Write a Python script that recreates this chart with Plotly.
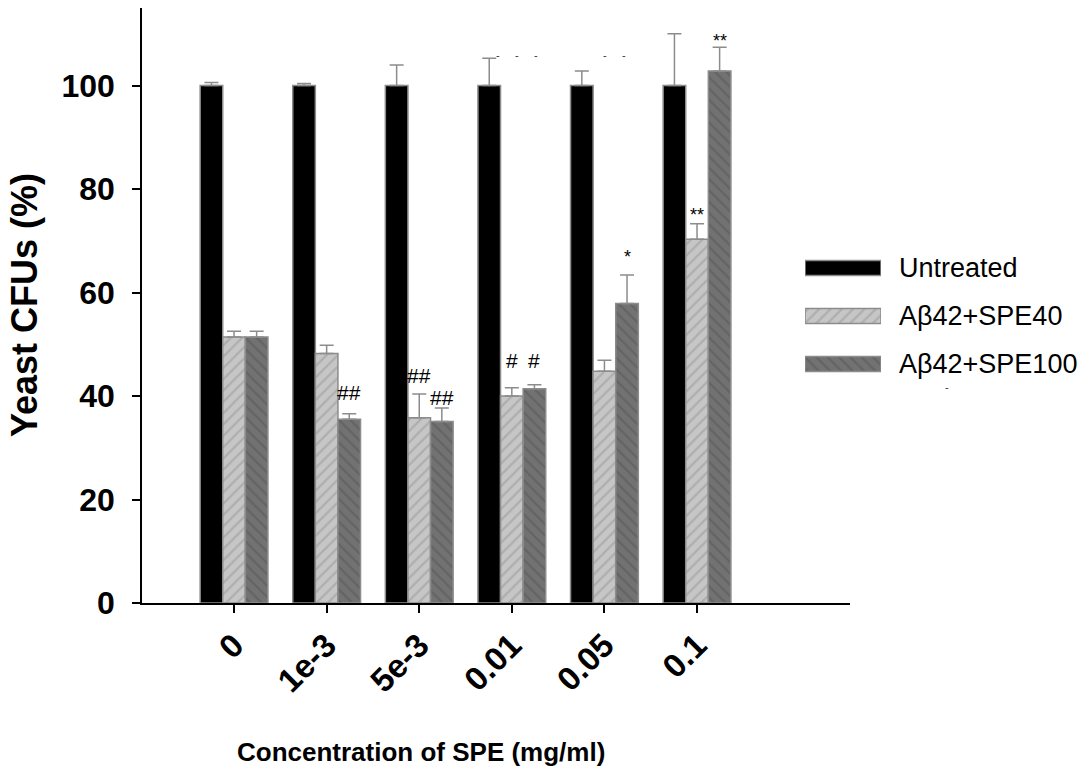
import plotly.graph_objects as go

# ---- data ---------------------------------------------------------------
concentrations = ["0", "1e-3", "5e-3", "0.01", "0.05", "0.1"]
series_names = ["Untreated", "Aβ42+SPE40", "Aβ42+SPE100"]

untreated = [100, 100, 100, 100, 100, 100]
untreated_err = [0.6, 0.4, 4.0, 5.3, 2.8, 10.0]

spe40 = [51.4, 48.2, 35.8, 40.0, 44.8, 70.3]
spe40_err = [1.1, 1.6, 4.6, 1.6, 2.1, 3.0]

spe100 = [51.4, 35.5, 35.1, 41.4, 57.9, 102.8]
spe100_err = [1.1, 1.1, 2.6, 0.8, 5.5, 4.6]

y_ticks = [0, 20, 40, 60, 80, 100]

# significance marks: (concentration index, series index, text, label centre in y units, font size)
significance = [
    (1, 2, "##", 40.6, 21),
    (2, 1, "##", 43.9, 21),
    (2, 2, "##", 39.8, 21),
    (3, 1, "#", 46.8, 21),
    (3, 2, "#", 46.8, 21),
    (4, 2, "*", 66.8, 18),
    (5, 1, "**", 75.0, 18),
    (5, 2, "**", 108.6, 18),
]

# ---- styling ------------------------------------------------------------
FONT = "Liberation Sans, Arial, sans-serif"
EDGE = "#8c8c8c"
BARGAP = 0.268
BAR_W = (1 - BARGAP) / 3
W, H = 1092, 783

styles = [
    dict(color="#000000"),
    dict(color="#c4c4c4",
         pattern=dict(shape="/", bgcolor="#c6c6c6", fgcolor="#969696", size=8, solidity=0.28)),
    dict(color="#6e6e6e",
         pattern=dict(shape="\\", bgcolor="#727272", fgcolor="#565656", size=8, solidity=0.3)),
]
values = [untreated, spe40, spe100]
errors = [untreated_err, spe40_err, spe100_err]
positions = list(range(len(concentrations)))

fig = go.Figure()

for name, vals, errs, st in zip(series_names, values, errors, styles):
    fig.add_trace(go.Bar(
        x=positions, y=vals, name=name,
        marker=dict(line=dict(color=EDGE, width=1.5), **st),
        error_y=dict(type="data", array=errs, arrayminus=[0] * len(errs),
                     symmetric=False, color=EDGE, thickness=1.5, width=7),
        xaxis="x", yaxis="y", showlegend=False,
    ))

# legend drawn as wide swatches on a small helper subplot
for i, (name, st) in enumerate(zip(series_names, styles)):
    row = len(series_names) - 1 - i
    fig.add_trace(go.Bar(
        x=[1], y=[row], orientation="h", width=0.31, offset=-0.155,
        marker=dict(line=dict(color=EDGE, width=1.5), **st),
        xaxis="x2", yaxis="y2", showlegend=False, hoverinfo="skip",
    ))
    fig.add_annotation(x=897 / W, xref="paper", y=row, yref="y2",
                       text=name, showarrow=False, xanchor="left", yanchor="middle",
                       font=dict(family=FONT, size=27, color="black"))

for cat, ser, txt, ypos, fs in significance:
    fig.add_annotation(x=cat + (ser - 1) * BAR_W, y=ypos, xref="x", yref="y",
                       text=txt, showarrow=False, xanchor="center", yanchor="middle",
                       font=dict(family=FONT, size=fs, color="black"))

# stray short dashes along the top and beside the legend
for px, py in [(498, 55), (517, 55), (536, 55), (605, 55), (624, 55), (947, 387)]:
    fig.add_annotation(x=px / W, y=1 - py / H, xref="paper", yref="paper",
                       text="-", showarrow=False, xanchor="center", yanchor="middle",
                       font=dict(family=FONT, size=11, color="#333333"))

# axis titles
fig.add_annotation(x=24 / W, y=1 - 305 / H, xref="paper", yref="paper",
                   text="<b>Yeast CFUs (%)</b>", textangle=-90, showarrow=False,
                   xanchor="center", yanchor="middle",
                   font=dict(family=FONT, size=36, color="black"))
fig.add_annotation(x=421 / W, y=1 - 752 / H, xref="paper", yref="paper",
                   text="<b>Concentration of SPE (mg/ml)</b>", showarrow=False,
                   xanchor="center", yanchor="middle",
                   font=dict(family=FONT, size=26, color="black"))

fig.update_layout(
    width=W, height=H,
    margin=dict(l=0, r=0, t=0, b=0, autoexpand=False),
    paper_bgcolor="white", plot_bgcolor="white",
    barmode="group", bargap=BARGAP, bargroupgap=0,
    font=dict(family=FONT, color="black"),
    showlegend=False,
    xaxis=dict(
        domain=[142 / W, 850 / W], range=[-0.994, 6.652], anchor="y", automargin=False,
        tickvals=positions, ticktext=concentrations, tickangle=-45,
        ticks="outside", ticklen=8, tickwidth=1.5, tickcolor="black",
        showline=True, linecolor="black", linewidth=1.5,
        showgrid=False, zeroline=False,
        tickfont=dict(family=FONT, size=33, color="black", weight="bold"),
    ),
    yaxis=dict(
        domain=[1 - 603 / H, 1 - 8 / H], range=[0, 115], anchor="x", automargin=False,
        tickvals=y_ticks, ticks="outside", ticklen=8, tickwidth=1.5, tickcolor="black",
        showline=True, linecolor="black", linewidth=1.5,
        showgrid=False, zeroline=False, ticklabelstandoff=11,
        tickfont=dict(family=FONT, size=32, color="black", weight="bold"),
    ),
    xaxis2=dict(domain=[805 / W, 881 / W], range=[0, 1], anchor="y2",
                visible=False, automargin=False),
    yaxis2=dict(domain=[1 - 388 / H, 1 - 244 / H], range=[-0.5, 2.5], anchor="x2",
                visible=False, automargin=False),
)

fig.write_html("out.html")
